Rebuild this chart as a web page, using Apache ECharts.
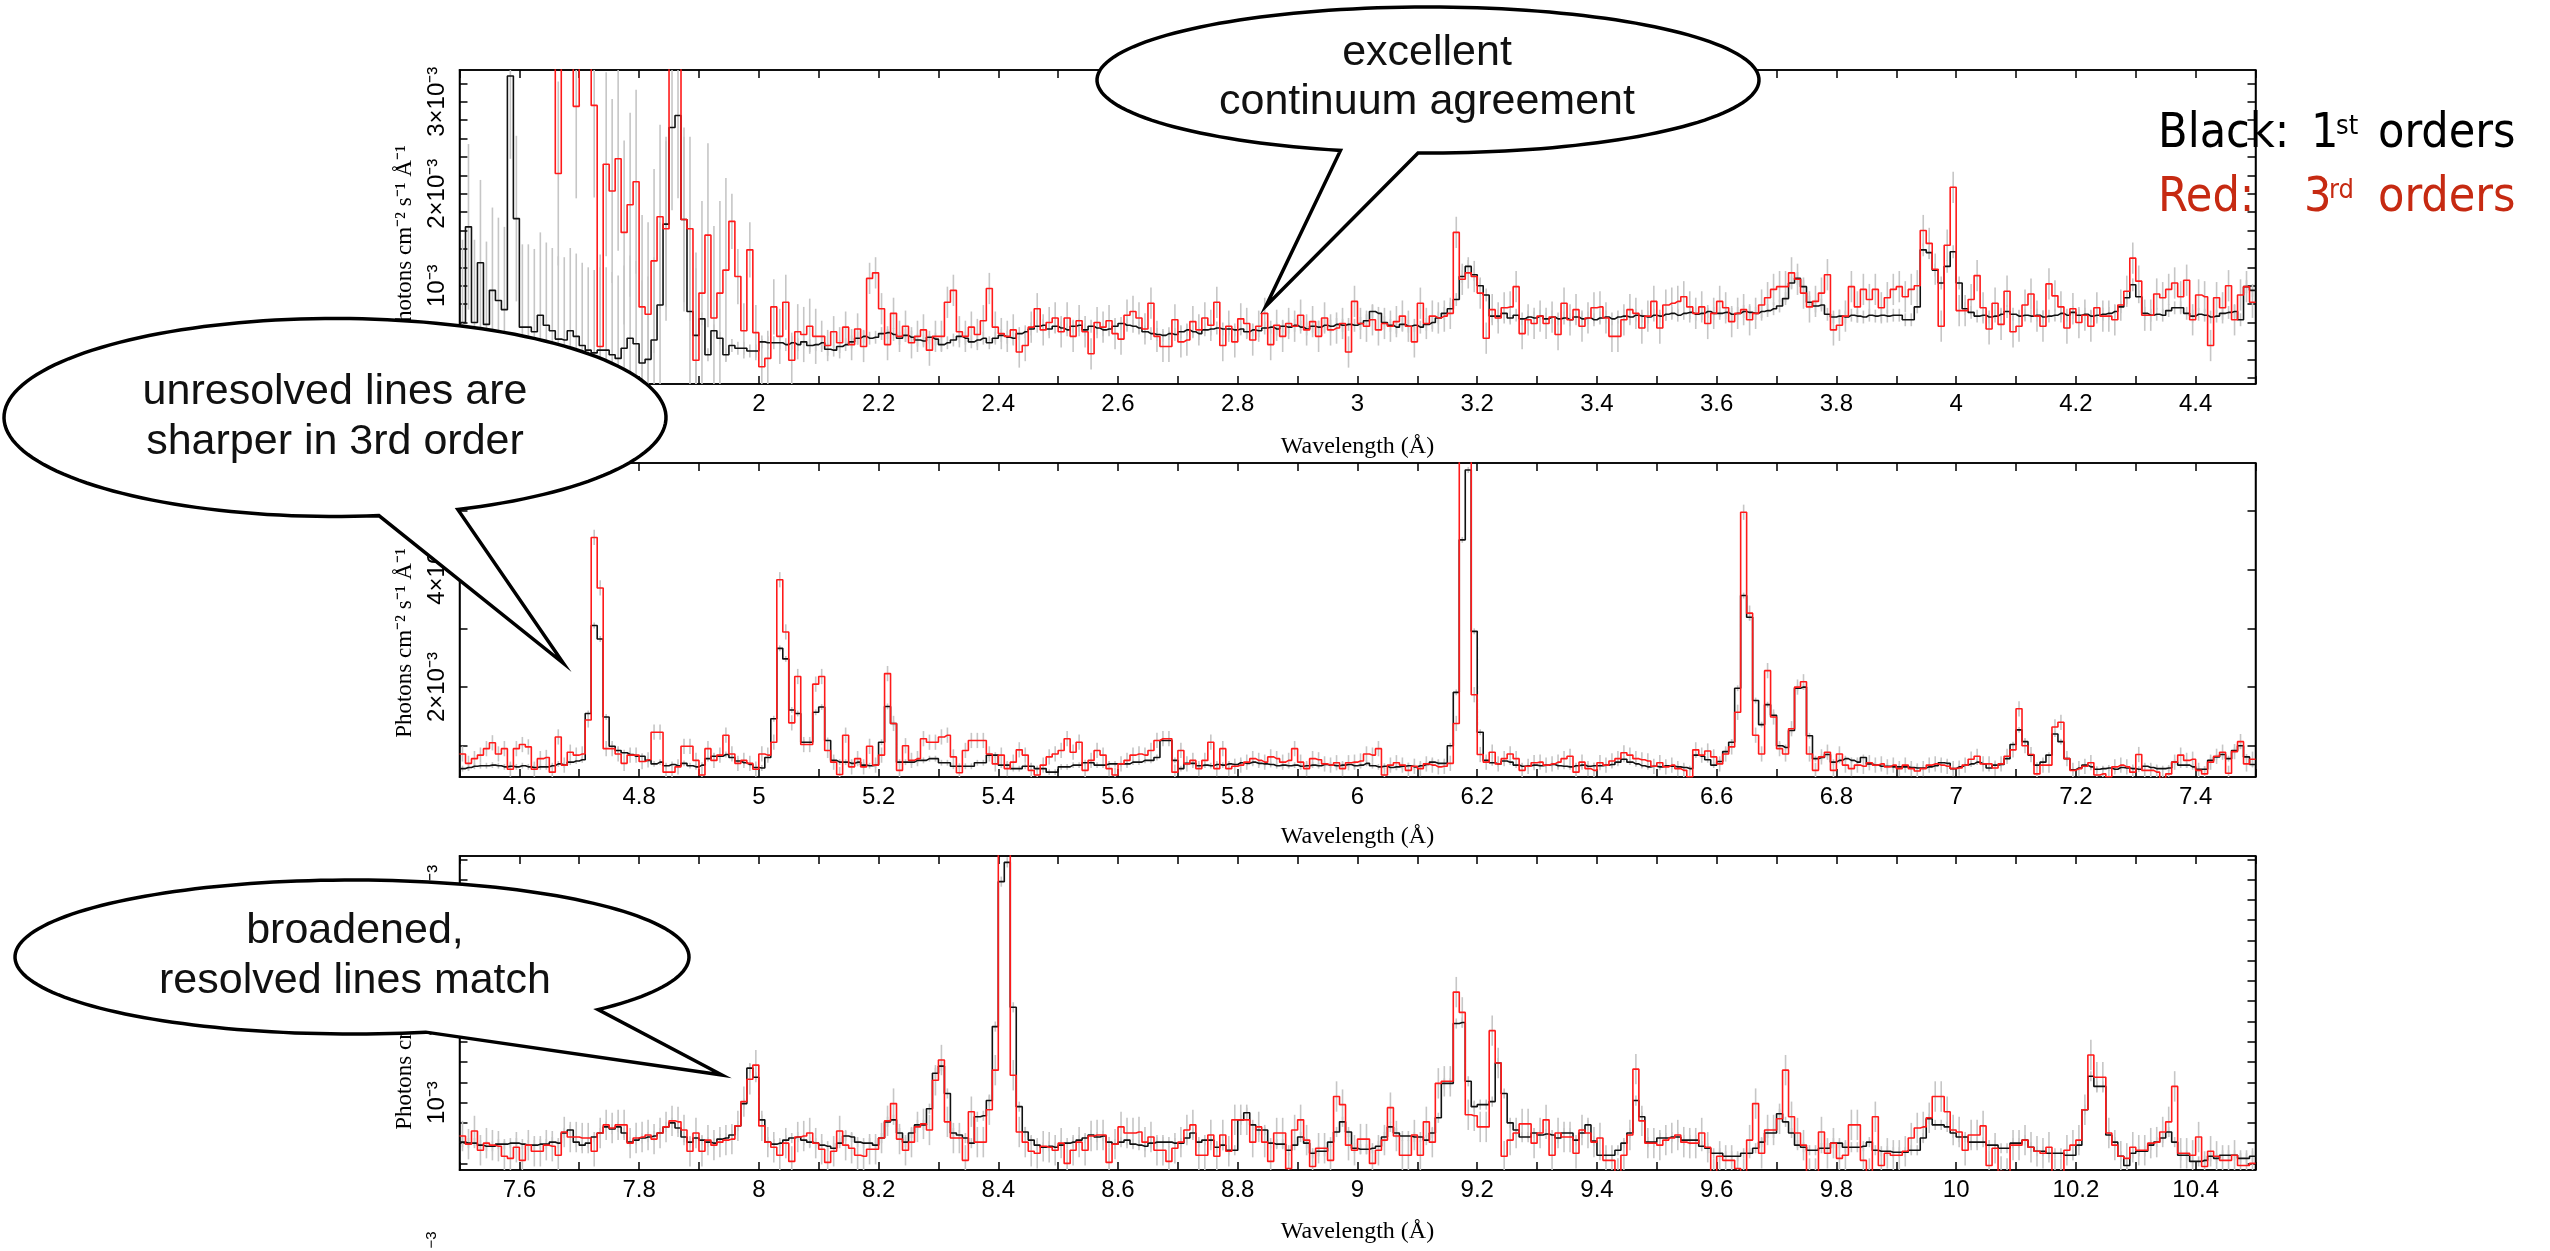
<!DOCTYPE html>
<html>
<head>
<meta charset="utf-8">
<title>HETG 1st vs 3rd orders</title>
<script src="https://cdn.jsdelivr.net/npm/echarts@6/dist/echarts.min.js"></script>
<style>
  html, body { margin: 0; background: #fff; }
  #chart { width: 2550px; height: 1251px; }
</style>
</head>
<body>
<div id="chart"></div>
<script>
// flux in units of 1e-3 photons cm^-2 s^-1 A^-1, bins of 0.01 A
var binWidth = 0.01;
var panelStart = [1.5, 4.5, 7.5];
var panelSpan = 3;

var black1 = [0.60,1.64,0.60,1.25,0.58,0.95,0.84,0.74,3.28,1.73,0.55,0.55,0.50,0.68,0.57,0.51,0.42,0.41,0.51,0.45,
0.35,0.30,0.27,0.30,0.30,0.25,0.21,0.32,0.43,0.37,0.16,0.20,0.41,0.79,1.67,2.72,2.85,1.72,0.72,0.46,
0.64,0.25,0.51,0.43,0.25,0.35,0.32,0.32,0.29,0.29,0.39,0.38,0.38,0.38,0.36,0.38,0.36,0.39,0.35,0.36,
0.38,0.31,0.30,0.34,0.36,0.39,0.43,0.45,0.43,0.44,0.48,0.49,0.47,0.43,0.46,0.44,0.41,0.40,0.44,0.42,
0.36,0.38,0.41,0.45,0.43,0.39,0.41,0.43,0.38,0.43,0.46,0.44,0.43,0.48,0.50,0.53,0.56,0.57,0.53,0.56,
0.54,0.52,0.56,0.57,0.52,0.56,0.54,0.52,0.53,0.56,0.59,0.57,0.56,0.54,0.50,0.48,0.47,0.46,0.48,0.47,
0.50,0.52,0.50,0.48,0.52,0.53,0.54,0.53,0.53,0.52,0.53,0.50,0.52,0.51,0.54,0.55,0.53,0.56,0.55,0.57,
0.55,0.53,0.56,0.55,0.57,0.56,0.58,0.57,0.58,0.57,0.59,0.62,0.72,0.70,0.60,0.57,0.55,0.58,0.56,0.57,
0.55,0.58,0.60,0.65,0.70,0.75,0.85,1.10,1.21,1.12,1.00,0.90,0.67,0.67,0.70,0.65,0.68,0.64,0.66,0.65,
0.67,0.64,0.66,0.64,0.65,0.63,0.66,0.64,0.65,0.63,0.65,0.66,0.64,0.66,0.67,0.66,0.68,0.67,0.66,0.68,
0.67,0.69,0.70,0.68,0.70,0.71,0.69,0.70,0.72,0.70,0.70,0.71,0.69,0.70,0.72,0.71,0.70,0.72,0.73,0.75,
0.78,0.86,1.03,1.08,0.99,0.82,0.78,0.79,0.69,0.66,0.67,0.66,0.68,0.67,0.66,0.68,0.67,0.68,0.67,0.68,
0.68,0.63,0.63,0.77,1.39,1.36,1.17,1.03,1.21,1.37,1.03,0.75,0.71,0.67,0.68,0.66,0.67,0.69,0.72,0.69,
0.67,0.68,0.67,0.68,0.66,0.67,0.68,0.70,0.68,0.71,0.68,0.69,0.67,0.68,0.69,0.70,0.72,0.77,0.87,1.01,
0.88,0.70,0.68,0.69,0.68,0.73,0.76,0.76,0.70,0.67,0.69,0.68,0.66,0.67,0.70,0.71,0.72,0.63,0.99,0.95];

var red1 = [null,null,null,null,null,null,null,null,null,null,null,null,null,null,null,5,2.22,5,5,2.95,
5,5,2.96,0.34,2.32,2.03,2.38,1.58,1.88,2.13,0.77,0.69,1.27,1.75,1.62,5,5,1.72,1.62,0.19,
0.92,1.55,0.65,0.92,1.17,1.70,1.10,0.51,1.39,0.49,0.12,0.21,0.77,0.45,0.82,0.19,0.50,0.47,0.56,0.45,
0.45,0.35,0.50,0.38,0.55,0.36,0.53,0.34,1.08,1.14,0.75,0.36,0.70,0.45,0.56,0.38,0.45,0.52,0.30,0.45,
0.45,0.82,0.95,0.50,0.45,0.55,0.47,0.62,0.97,0.55,0.48,0.45,0.52,0.28,0.35,0.55,0.75,0.52,0.60,0.65,
0.50,0.65,0.45,0.62,0.50,0.26,0.60,0.55,0.62,0.48,0.42,0.68,0.72,0.65,0.53,0.81,0.45,0.34,0.34,0.63,
0.39,0.41,0.61,0.52,0.65,0.57,0.82,0.35,0.56,0.39,0.64,0.59,0.41,0.56,0.70,0.36,0.57,0.45,0.59,0.56,
0.68,0.52,0.61,0.45,0.65,0.52,0.54,0.59,0.28,0.83,0.59,0.56,0.63,0.52,0.59,0.56,0.61,0.67,0.56,0.39,
0.81,0.59,0.67,0.65,0.67,0.70,1.58,1.07,1.14,1.10,0.92,0.43,0.74,0.65,0.76,0.77,0.99,0.48,0.63,0.59,
0.67,0.59,0.66,0.47,0.81,0.63,0.74,0.56,0.65,0.76,0.77,0.65,0.45,0.45,0.63,0.74,0.70,0.54,0.67,0.83,
0.54,0.79,0.81,0.83,0.88,0.77,0.70,0.77,0.59,0.70,0.83,0.76,0.61,0.70,0.74,0.63,0.70,0.79,0.87,0.96,
0.99,0.99,1.14,1.07,0.92,0.77,0.83,0.92,1.12,0.52,0.57,0.67,0.99,0.77,0.96,0.85,0.96,0.76,0.87,0.96,
0.99,0.88,0.96,1.00,1.60,1.46,1.18,0.56,1.44,2.07,0.73,0.73,0.85,1.11,0.76,0.53,0.81,0.58,0.94,0.50,
0.56,0.79,0.91,0.67,0.56,1.02,0.89,0.77,0.54,0.75,0.60,0.68,0.56,0.76,0.67,0.67,0.63,0.79,0.94,1.30,
1.05,0.68,0.68,0.91,0.87,0.96,1.03,0.88,1.06,0.63,0.90,0.88,0.35,0.87,0.76,1.00,0.63,0.90,0.99,0.82];

var black2 = [0.61,0.63,0.65,0.66,0.66,0.67,0.66,0.64,0.65,0.64,0.66,0.64,0.63,0.64,0.64,0.66,0.69,0.67,0.72,0.74,
0.76,1.55,3.05,2.82,1.49,0.99,0.92,0.88,0.85,0.82,0.82,0.75,0.69,0.72,0.66,0.68,0.66,0.70,0.66,0.64,
0.67,0.78,0.82,0.82,0.85,0.80,0.74,0.71,0.68,0.63,0.62,0.80,1.46,2.66,2.48,1.61,1.55,1.06,1.06,1.57,
1.66,1.09,0.75,0.72,0.72,0.70,0.72,0.67,0.66,0.67,1.06,1.67,1.38,0.72,0.72,0.72,0.75,0.75,0.78,0.78,
0.71,0.71,0.65,0.65,0.65,0.65,0.71,0.71,0.84,0.84,0.67,0.67,0.61,0.61,0.65,0.65,0.61,0.61,0.55,0.55,
0.64,0.64,0.67,0.67,0.71,0.71,0.67,0.67,0.69,0.69,0.69,0.69,0.72,0.72,0.75,0.75,0.80,1.09,1.09,0.75,
0.61,0.70,0.70,0.66,0.67,0.66,0.68,0.67,0.69,0.68,0.71,0.70,0.72,0.70,0.69,0.68,0.66,0.67,0.66,0.67,
0.65,0.66,0.67,0.66,0.68,0.67,0.66,0.67,0.68,0.66,0.67,0.70,0.66,0.64,0.65,0.63,0.64,0.65,0.66,0.64,
0.66,0.68,0.72,0.70,0.70,1.00,1.91,4.51,5.70,2.95,1.23,0.75,0.71,0.69,0.74,0.72,0.67,0.65,0.66,0.67,
0.66,0.67,0.68,0.66,0.65,0.64,0.66,0.67,0.65,0.66,0.66,0.67,0.68,0.72,0.77,0.72,0.69,0.66,0.64,0.65,
0.64,0.66,0.65,0.64,0.63,0.61,0.84,0.82,0.76,0.67,0.73,0.90,1.06,1.98,3.56,3.19,1.77,1.36,1.70,1.52,
1.00,0.97,1.26,1.98,2.00,1.17,0.78,0.80,0.85,0.72,0.75,0.78,0.75,0.72,0.80,0.69,0.67,0.65,0.65,0.64,
0.64,0.64,0.63,0.62,0.62,0.64,0.66,0.71,0.70,0.61,0.64,0.67,0.69,0.72,0.69,0.62,0.67,0.68,0.78,
1.02,1.27,1.07,0.84,0.67,0.72,0.84,1.20,1.07,0.78,0.59,0.62,0.67,0.64,0.60,0.61,0.62,0.60,0.63,0.62,
0.61,0.60,0.65,0.63,0.61,0.61,0.62,0.72,0.67,0.67,0.64,0.60,0.60,0.75,0.81,0.85,0.78,0.92,1.00,0.81,0.68];

var red2 = [0.86,0.70,0.78,0.84,0.95,1.05,0.86,0.95,0.60,0.95,1.02,0.98,0.60,0.78,0.80,0.55,1.15,0.67,0.89,0.84,
0.86,1.44,4.55,3.69,0.95,0.95,0.86,0.70,0.84,0.84,0.73,0.76,1.23,1.23,0.55,0.55,0.64,0.99,0.99,0.75,
0.50,0.95,0.75,0.84,1.18,0.86,0.70,0.75,0.70,0.60,0.86,0.84,1.06,3.83,2.94,1.39,2.18,1.02,1.02,2.05,
2.18,0.92,0.72,0.51,1.18,0.64,0.78,0.64,0.99,0.67,0.84,2.23,1.38,0.58,1.00,0.75,0.78,1.12,1.06,1.06,
1.15,1.18,0.81,0.54,0.92,1.09,1.09,1.09,0.86,0.69,0.84,0.61,0.72,0.93,0.84,0.58,0.50,0.67,0.81,0.86,
0.92,1.12,0.89,1.06,0.58,0.75,0.92,0.84,0.61,0.50,0.69,0.75,0.84,0.86,0.84,0.92,1.09,1.12,1.12,0.55,
0.92,0.69,0.75,0.61,0.75,1.06,0.61,0.95,0.61,0.65,0.67,0.72,0.78,0.75,0.72,0.81,0.78,0.72,0.75,0.95,
0.72,0.61,0.78,0.76,0.69,0.67,0.71,0.61,0.71,0.72,0.74,0.86,0.84,0.95,0.50,0.67,0.71,0.67,0.58,0.65,
0.61,0.69,0.67,0.64,0.65,0.70,1.38,7,7,1.87,0.85,0.72,0.89,0.69,0.78,0.86,0.78,0.58,0.65,0.71,
0.72,0.67,0.69,0.72,0.78,0.82,0.55,0.72,0.61,0.58,0.71,0.67,0.74,0.78,0.88,0.84,0.78,0.76,0.74,0.65,
0.71,0.64,0.67,0.61,0.58,0.47,0.93,0.84,0.91,0.81,0.69,0.86,0.98,1.57,4.98,3.26,1.18,0.86,2.28,1.49,
0.95,0.86,1.29,2.00,2.09,0.86,0.58,0.81,0.89,0.58,0.86,0.67,0.61,0.67,0.65,0.71,0.67,0.69,0.64,0.67,
0.61,0.67,0.61,0.57,0.61,0.67,0.69,0.67,0.65,0.61,0.62,0.67,0.77,0.82,0.69,0.69,0.62,0.69,0.82,
0.93,1.63,1.00,0.85,0.52,0.67,0.67,1.32,1.40,0.78,0.58,0.61,0.65,0.71,0.50,0.52,0.47,0.64,0.67,0.64,
0.55,0.85,0.58,0.58,0.55,0.44,0.52,0.72,0.84,0.75,0.77,0.58,0.52,0.72,0.82,0.89,0.53,0.90,1.07,0.69,0.77];

var black3 = [0.61,0.60,0.60,0.58,0.57,0.57,0.59,0.59,0.60,0.60,0.59,0.58,0.58,0.59,0.59,0.61,0.60,0.70,0.73,0.61,
0.58,0.60,0.66,0.70,0.76,0.74,0.76,0.70,0.61,0.63,0.65,0.66,0.67,0.70,0.76,0.80,0.75,0.66,0.61,0.65,
0.63,0.61,0.60,0.64,0.65,0.68,0.77,0.99,1.34,1.25,0.83,0.61,0.59,0.60,0.63,0.65,0.66,0.63,0.61,0.60,
0.58,0.57,0.55,0.60,0.67,0.66,0.61,0.60,0.60,0.58,0.65,0.81,0.83,0.70,0.61,0.70,0.78,0.78,0.94,1.29,
1.36,1.09,0.70,0.68,0.65,0.60,0.86,0.87,1.02,1.75,3.18,3.37,1.94,0.96,0.71,0.63,0.58,0.56,0.57,0.56,
0.58,0.60,0.61,0.63,0.65,0.68,0.66,0.67,0.61,0.59,0.61,0.63,0.59,0.58,0.57,0.60,
0.61,0.61,0.61,0.60,0.60,0.65,0.70,0.61,0.63,0.63,0.56,0.58,0.53,0.53,0.83,0.90,0.78,0.73,0.73,0.60,
0.59,0.59,0.53,0.58,0.66,0.60,0.50,0.52,0.52,0.61,0.71,0.81,0.71,0.55,0.54,0.54,0.55,0.57,0.66,0.76,
0.70,0.67,0.67,0.66,0.66,0.63,0.70,0.85,1.19,1.19,1.78,1.79,1.21,0.96,0.98,0.98,1.01,1.39,1.09,0.80,
0.73,0.66,0.66,0.70,0.68,0.69,0.68,0.65,0.70,0.70,0.63,0.70,0.78,0.62,0.48,0.48,0.48,0.53,0.60,0.70,
1.02,0.86,0.61,0.61,0.65,0.65,0.66,0.66,0.63,0.63,0.63,0.57,0.55,0.50,0.50,0.47,0.47,0.47,0.50,0.50,
0.55,0.61,0.70,0.70,0.89,0.81,0.70,0.58,0.56,0.53,0.53,0.55,0.55,0.60,0.60,0.56,0.56,0.56,0.57,0.61,
0.53,0.52,0.52,0.51,0.51,0.51,0.53,0.53,0.65,0.84,0.78,0.78,0.76,0.70,0.66,0.66,0.61,0.61,0.61,0.58,
0.58,0.55,0.55,0.60,0.60,0.63,0.56,0.52,0.52,0.50,0.50,0.50,0.48,0.48,0.58,0.93,1.26,1.16,1.16,0.68,
0.61,0.47,0.38,0.50,0.52,0.52,0.58,0.61,0.65,0.71,0.61,0.48,0.48,0.42,0.42,0.43,0.47,0.45,0.48,0.48,
0.48,0.45,0.45,0.47];

var red3 = [0.67,0.59,0.72,0.53,0.60,0.58,0.57,0.47,0.45,0.56,0.43,0.58,0.52,0.52,0.58,0.57,0.48,0.71,0.66,0.66,
0.65,0.65,0.52,0.70,0.78,0.75,0.78,0.78,0.60,0.65,0.66,0.68,0.64,0.70,0.76,0.82,0.81,0.73,0.52,0.70,
0.52,0.63,0.58,0.61,0.63,0.64,0.77,1.01,1.23,1.37,0.77,0.61,0.56,0.48,0.60,0.42,0.66,0.67,0.70,0.60,
0.54,0.41,0.52,0.72,0.58,0.55,0.48,0.47,0.54,0.54,0.65,0.82,0.99,0.64,0.53,0.61,0.76,0.79,0.73,1.22,
1.42,0.81,0.65,0.65,0.43,0.91,0.61,0.61,0.93,1.32,4,4,1.27,0.71,0.61,0.52,0.50,0.57,0.56,0.53,
0.60,0.40,0.53,0.61,0.53,0.67,0.68,0.68,0.41,0.59,0.76,0.70,0.70,0.71,0.61,0.66,
0.53,0.53,0.42,0.55,0.61,0.73,0.78,0.48,0.48,0.68,0.47,0.68,0.52,0.83,0.83,0.83,0.61,0.76,0.61,0.42,
0.70,0.70,0.35,0.73,0.83,0.63,0.37,0.55,0.55,0.43,1.06,0.98,0.58,0.53,0.64,0.64,0.40,0.53,0.63,0.95,
0.67,0.48,0.48,0.68,0.48,0.81,0.61,1.19,1.21,1.21,2.09,1.89,0.88,0.87,0.76,0.76,1.71,1.39,0.47,0.63,
0.70,0.79,0.79,0.60,0.70,0.83,0.48,0.70,0.66,0.66,0.50,0.73,0.70,0.61,0.65,0.43,0.43,0.30,0.48,0.68,
1.33,0.82,0.60,0.60,0.58,0.63,0.65,0.68,0.61,0.60,0.60,0.70,0.56,0.30,0.47,0.43,0.43,0.35,0.30,0.63,
0.99,0.50,0.73,0.73,0.84,1.32,0.86,0.70,0.58,0.30,0.30,0.71,0.50,0.60,0.45,0.48,0.78,0.78,0.43,0.30,
0.86,0.38,0.50,0.48,0.48,0.52,0.65,0.75,0.76,0.85,1.06,1.06,0.91,0.73,0.71,0.53,0.68,0.68,0.77,0.38,
0.55,0.32,0.30,0.58,0.58,0.63,0.56,0.52,0.50,0.56,0.30,0.30,0.53,0.58,0.63,0.93,1.47,1.25,1.25,0.70,
0.58,0.47,0.45,0.56,0.53,0.53,0.60,0.61,0.71,0.81,1.16,0.50,0.50,0.48,0.66,0.37,0.52,0.47,0.43,0.43,
0.48,0.38,0.38,0.40];

// error half-lengths: [from wavelength, half length]
var errBlack1 = [[1.5, 0.9], [1.9, 0.07]];
var errRed1 = [[1.5, 1.0], [1.95, 0.3], [2.1, 0.17]];
var errBlack2 = [[4.5, 0.05]];
var errRed2 = [[4.5, 0.13]];
var errBlack3 = [[7.5, 0.05]];
var errRed3 = [[7.5, 0.15]];

var xLabels1 = [1.6, 1.8, 2, 2.2, 2.4, 2.6, 2.8, 3, 3.2, 3.4, 3.6, 3.8, 4, 4.2, 4.4];
var xLabels2 = [4.6, 4.8, 5, 5.2, 5.4, 5.6, 5.8, 6, 6.2, 6.4, 6.6, 6.8, 7, 7.2, 7.4];
var xLabels3 = [7.6, 7.8, 8, 8.2, 8.4, 8.6, 8.8, 9, 9.2, 9.4, 9.6, 9.8, 10, 10.2, 10.4];
var yLabels1 = [1, 2, 3];
var yLabels2 = [2, 4];
var yLabels3 = [1, 2, 3];
var yRanges = [[-0.068, 3.345], [0.467, 5.82], [0.335, 3.433]];
var yTickSteps = [0.2, 1, 0.2];

var blacks = [black1, black2, black3];
var reds = [red1, red2, red3];
var errBlacks = [errBlack1, errBlack2, errBlack3];
var errReds = [errRed1, errRed2, errRed3];
var xLabels = [xLabels1, xLabels2, xLabels3];
var yLabels = [yLabels1, yLabels2, yLabels3];

var gridTops = [70, 463, 856];
var nameGaps = [51, 48, 50];

function binCenter(start, i) { return Math.round((start + (i + 0.5) * binWidth) * 1000) / 1000; }

function stepData(start, vals) {
  var out = [[start, vals[0]]];
  for (var i = 0; i < vals.length; i++) out.push([binCenter(start, i), vals[i]]);
  out.push([start + panelSpan, vals[vals.length - 1]]);
  return out;
}

function errAt(errs, x) {
  var e = errs[0][1];
  for (var i = 0; i < errs.length; i++) if (x >= errs[i][0]) e = errs[i][1];
  return e;
}

function errData(start, vals, errs) {
  var out = [];
  for (var i = 0; i < vals.length; i++) {
    if (vals[i] == null) continue;
    var x = binCenter(start, i);
    out.push([x, vals[i], errAt(errs, x)]);
  }
  return out;
}

function renderErr(params, api) {
  var x = api.value(0), v = api.value(1), e = api.value(2);
  var cs = params.coordSys;
  var a = api.coord([x, v - e]), b = api.coord([x, v + e]);
  var lo = cs.y, hi = cs.y + cs.height;
  var y1 = Math.min(Math.max(a[1], lo), hi);
  var y2 = Math.min(Math.max(b[1], lo), hi);
  if (Math.abs(y1 - y2) < 0.5) return null;
  return { type: 'line', shape: { x1: a[0], y1: y1, x2: b[0], y2: y2 },
           style: { stroke: '#c6c6c6', lineWidth: 1.6 } };
}

function range(lo, hi, step) {
  var out = [];
  var v = Math.ceil(lo / step - 1e-9) * step;
  for (; v <= hi + 1e-9; v += step) out.push(Math.round(v * 1000) / 1000);
  return out;
}

var axisLine = { show: true, onZero: false, lineStyle: { color: '#000', width: 1.5 } };
var tickStyle = { color: '#000', width: 1.5 };

var grids = [], xAxes = [], yAxes = [], series = [];
for (var p = 0; p < 3; p++) {
  var x0 = panelStart[p], x1 = x0 + panelSpan;
  var xt = range(x0, x1, 0.1);
  var yt = range(yRanges[p][0], yRanges[p][1], yTickSteps[p]);
  grids.push({ left: 459.5, top: gridTops[p], width: 1796, height: 314,
               show: true, borderColor: '#000', borderWidth: 1.5 });
  xAxes.push({
    type: 'value', gridIndex: p, position: 'bottom', min: x0, max: x1,
    axisLine: axisLine, splitLine: { show: false },
    axisTick: { inside: true, length: 8, customValues: xt, lineStyle: tickStyle },
    axisLabel: { customValues: xLabels[p], color: '#000', fontFamily: 'Liberation Sans',
                 fontSize: 24, margin: 8,
                 formatter: function (v) { return String(Math.round(v * 10) / 10); } },
    name: 'Wavelength (\u00c5)', nameLocation: 'middle', nameGap: nameGaps[p],
    nameTextStyle: { fontFamily: 'Liberation Serif', fontSize: 24, color: '#000' }
  });
  xAxes.push({
    type: 'value', gridIndex: p, position: 'top', min: x0, max: x1,
    axisLine: axisLine, splitLine: { show: false },
    axisTick: { inside: true, length: 8, customValues: xt, lineStyle: tickStyle },
    axisLabel: { show: false }
  });
  yAxes.push({
    type: 'value', gridIndex: p, position: 'left', min: yRanges[p][0], max: yRanges[p][1],
    axisLine: axisLine, splitLine: { show: false },
    axisTick: { inside: true, length: 8, customValues: yt, lineStyle: tickStyle },
    axisLabel: { customValues: yLabels[p], rotate: 90, color: '#000', fontFamily: 'Liberation Sans',
                 fontSize: 24, margin: 10,
                 formatter: function (v) {
                   var r = Math.round(v);
                   return r === 1 ? '10\u207b\u00b3' : r + '\u00d710\u207b\u00b3';
                 } }
  });
  yAxes.push({
    type: 'value', gridIndex: p, position: 'right', min: yRanges[p][0], max: yRanges[p][1],
    axisLine: axisLine, splitLine: { show: false },
    axisTick: { inside: true, length: 8, customValues: yt, lineStyle: tickStyle },
    axisLabel: { show: false }
  });

  var xi = p * 2, yi = p * 2;
  series.push({
    type: 'custom', xAxisIndex: xi, yAxisIndex: yi, z: 1, silent: true,
    renderItem: renderErr, encode: { x: 0, y: 1 },
    data: errData(x0, reds[p], errReds[p])
  });
  series.push({
    type: 'custom', xAxisIndex: xi, yAxisIndex: yi, z: 1, silent: true,
    renderItem: renderErr, encode: { x: 0, y: 1 },
    data: errData(x0, blacks[p], errBlacks[p])
  });
  series.push({
    type: 'line', step: 'middle', xAxisIndex: xi, yAxisIndex: yi, z: 2,
    showSymbol: false, silent: true, clip: true,
    lineStyle: { color: '#111', width: 1.6 },
    data: stepData(x0, blacks[p])
  });
  series.push({
    type: 'line', step: 'middle', xAxisIndex: xi, yAxisIndex: yi, z: 3,
    showSymbol: false, silent: true, clip: true,
    lineStyle: { color: '#ff1a1a', width: 1.6 },
    data: stepData(x0, reds[p])
  });
}

// speech bubble outline: ellipse plus tail, as one polygon
function bubblePoints(cx, cy, rx, ry, b1, tip, b2) {
  var a1 = Math.atan2((b1[1] - cy) / ry, (b1[0] - cx) / rx);
  var a2 = Math.atan2((b2[1] - cy) / ry, (b2[0] - cx) / rx);
  var d = a2 - a1;
  while (d <= -Math.PI) d += 2 * Math.PI;
  while (d > Math.PI) d -= 2 * Math.PI;
  var dir = d > 0 ? 1 : -1, span = 2 * Math.PI - Math.abs(d);
  var pts = [], n = 160;
  for (var i = 0; i <= n; i++) {
    var t = a2 + dir * span * i / n;
    pts.push([cx + rx * Math.cos(t), cy + ry * Math.sin(t)]);
  }
  pts.push(tip);
  return pts;
}

function bubble(cx, cy, rx, ry, b1, tip, b2, lines, tx, baselines) {
  var els = [{
    type: 'polygon', z: 100, silent: true,
    shape: { points: bubblePoints(cx, cy, rx, ry, b1, tip, b2) },
    style: { fill: '#fff', stroke: '#000', lineWidth: 3.5, lineJoin: 'miter' }
  }];
  for (var i = 0; i < lines.length; i++) {
    els.push({
      type: 'text', z: 101, silent: true, x: tx, y: baselines[i] - 15,
      style: { text: lines[i], fill: '#111', font: '43px "Liberation Sans"',
               align: 'center', verticalAlign: 'middle' }
    });
  }
  return els;
}

var legendFont = '"DejaVu Sans Condensed", "DejaVu Sans"';
var graphics = []
  .concat(bubble(1428, 80, 331, 73, [1341, 150], [1266, 306], [1418, 153],
                 ['excellent', 'continuum agreement'], 1427, [68, 117]))
  .concat(bubble(335, 417.5, 331, 99, [378.6, 515], [563.4, 663.3], [457.6, 509.3],
                 ['unresolved lines are', 'sharper in 3rd order'], 335, [407, 457]))
  .concat(bubble(352, 957, 337, 77, [599.8, 1010], [722, 1075], [426.3, 1032.7],
                 ['broadened,', 'resolved lines match'], 355, [946, 996]));

[240, 643, 1035].forEach(function (cy) {
  graphics.push({
    type: 'text', z: 50, silent: true, x: 405, y: cy, rotation: Math.PI / 2,
    style: { text: 'Photons cm\u207b\u00b2 s\u207b\u00b9 \u00c5\u207b\u00b9', fill: '#000',
             font: '23px "Liberation Serif"', align: 'center', verticalAlign: 'middle' }
  });
});
graphics.push({
  type: 'text', z: 50, silent: true, x: 432, y: 1240, rotation: Math.PI / 2,
  style: { text: '\u2212' + '3', fill: '#000', font: '15px "Liberation Sans"',
           align: 'center', verticalAlign: 'middle' }
});

function legendLine(color, label, num, sup, base) {
  var mid = base - 16.6;
  return [
    { type: 'text', z: 50, x: 2158, y: mid, style: { text: label, fill: color,
      font: '48px ' + legendFont, align: 'left', verticalAlign: 'middle' } },
    { type: 'text', z: 50, x: num.x, y: mid, style: { text: num.t, fill: color,
      font: '48px ' + legendFont, align: 'left', verticalAlign: 'middle' } },
    { type: 'text', z: 50, x: num.x + 25, y: base - 24, style: { text: sup, fill: color,
      font: '27px ' + legendFont, align: 'left', verticalAlign: 'middle' } },
    { type: 'text', z: 50, x: 2378, y: mid, style: { text: 'orders', fill: color,
      font: '48px ' + legendFont, align: 'left', verticalAlign: 'middle' } }
  ];
}
graphics = graphics
  .concat(legendLine('#000', 'Black:', { x: 2311, t: '1' }, 'st', 151))
  .concat(legendLine('#c62a12', 'Red:', { x: 2304, t: '3' }, 'rd', 215));

var chart = echarts.init(document.getElementById('chart'), null, { renderer: 'canvas' });
chart.setOption({
  animation: false,
  backgroundColor: '#fff',
  textStyle: { fontFamily: 'Liberation Sans' },
  grid: grids,
  xAxis: xAxes,
  yAxis: yAxes,
  series: series,
  graphic: graphics
});
</script>
</body>
</html>
